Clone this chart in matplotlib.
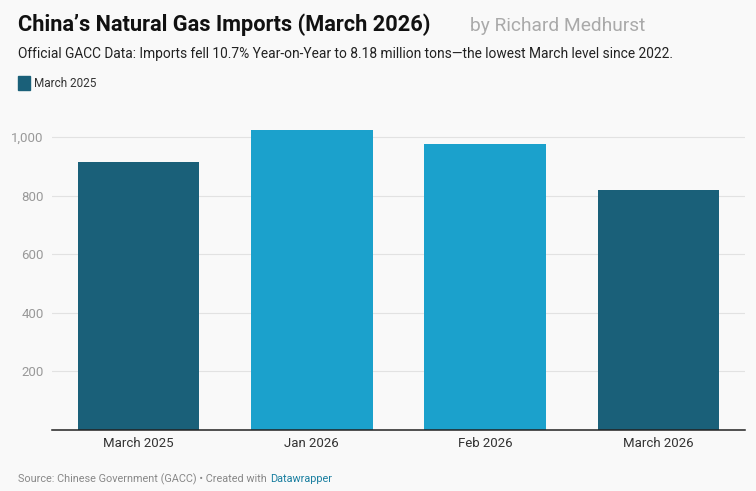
import matplotlib.pyplot as plt
from matplotlib.patches import Rectangle

categories = ["March 2025", "Jan 2026", "Feb 2026", "March 2026"]
imports = [916, 1024, 976, 818]
bar_colors = ["#1a6079", "#1ba1cc", "#1ba1cc", "#1a6079"]
yticks = [200, 400, 600, 800, 1000]

plt.rcParams["font.family"] = ["Roboto", "DejaVu Sans"]
bg = "#f9f9f9"

fig = plt.figure(figsize=(7.56, 4.91), dpi=100, facecolor=bg)
ax = fig.add_axes([52 / 756, 1 - 430 / 491, 693 / 756, 310 / 491])
ax.set_facecolor(bg)

x = range(len(categories))
ax.bar(x, imports, width=0.7, color=bar_colors, zorder=3)

ax.set_xlim(-0.5, len(categories) - 0.5)
ax.set_ylim(0, 1058)
ax.set_yticks(yticks)
ax.set_yticklabels([f"{v:,}" for v in yticks])
ax.set_xticks(list(x))
ax.set_xticklabels(categories)

ax.grid(axis="y", color="#e2e2e2", linewidth=0.8, zorder=0)
for s in ["top", "right", "left"]:
    ax.spines[s].set_visible(False)
ax.spines["bottom"].set_color("#222222")
ax.spines["bottom"].set_linewidth(1.1)
ax.spines["bottom"].set_zorder(4)
ax.tick_params(axis="y", length=0, pad=6, labelsize=9.5, labelcolor="#999999")
ax.tick_params(axis="x", length=0, pad=5, labelsize=9.5, labelcolor="#333333")

fig.text(18 / 756, 1 - 31 / 491, "China\u2019s Natural Gas Imports (March 2026)",
         fontsize=15.7, fontweight="bold", color="#111111", va="baseline")
fig.text(470 / 756, 1 - 31 / 491, "by Richard Medhurst",
         fontsize=13.8, color="#aaaaaa", va="baseline")
fig.text(18 / 756, 1 - 58 / 491,
         "Official GACC Data: Imports fell 10.7% Year-on-Year to 8.18 million tons\u2014the lowest March level since 2022.",
         fontsize=9.95, color="#222222", va="baseline")

fig.patches.append(Rectangle((18 / 756, 1 - 90 / 491), 12 / 756, 14 / 491,
                             transform=fig.transFigure, color="#1a6079"))
fig.text(34 / 756, 1 - 87 / 491, "March 2025", fontsize=8.5, color="#333333", va="baseline")

src = fig.text(18 / 756, 1 - 482 / 491, "Source: Chinese Government (GACC) \u2022 Created with",
               fontsize=7.8, color="#888888", va="baseline")
fig.canvas.draw()
bb = src.get_window_extent()
fig.text((bb.x1 + 3) / 756, 1 - 482 / 491, "Datawrapper", fontsize=7.8,
         color="#1a7fa0", va="baseline")

plt.savefig("out.png", dpi=100, facecolor=bg)
